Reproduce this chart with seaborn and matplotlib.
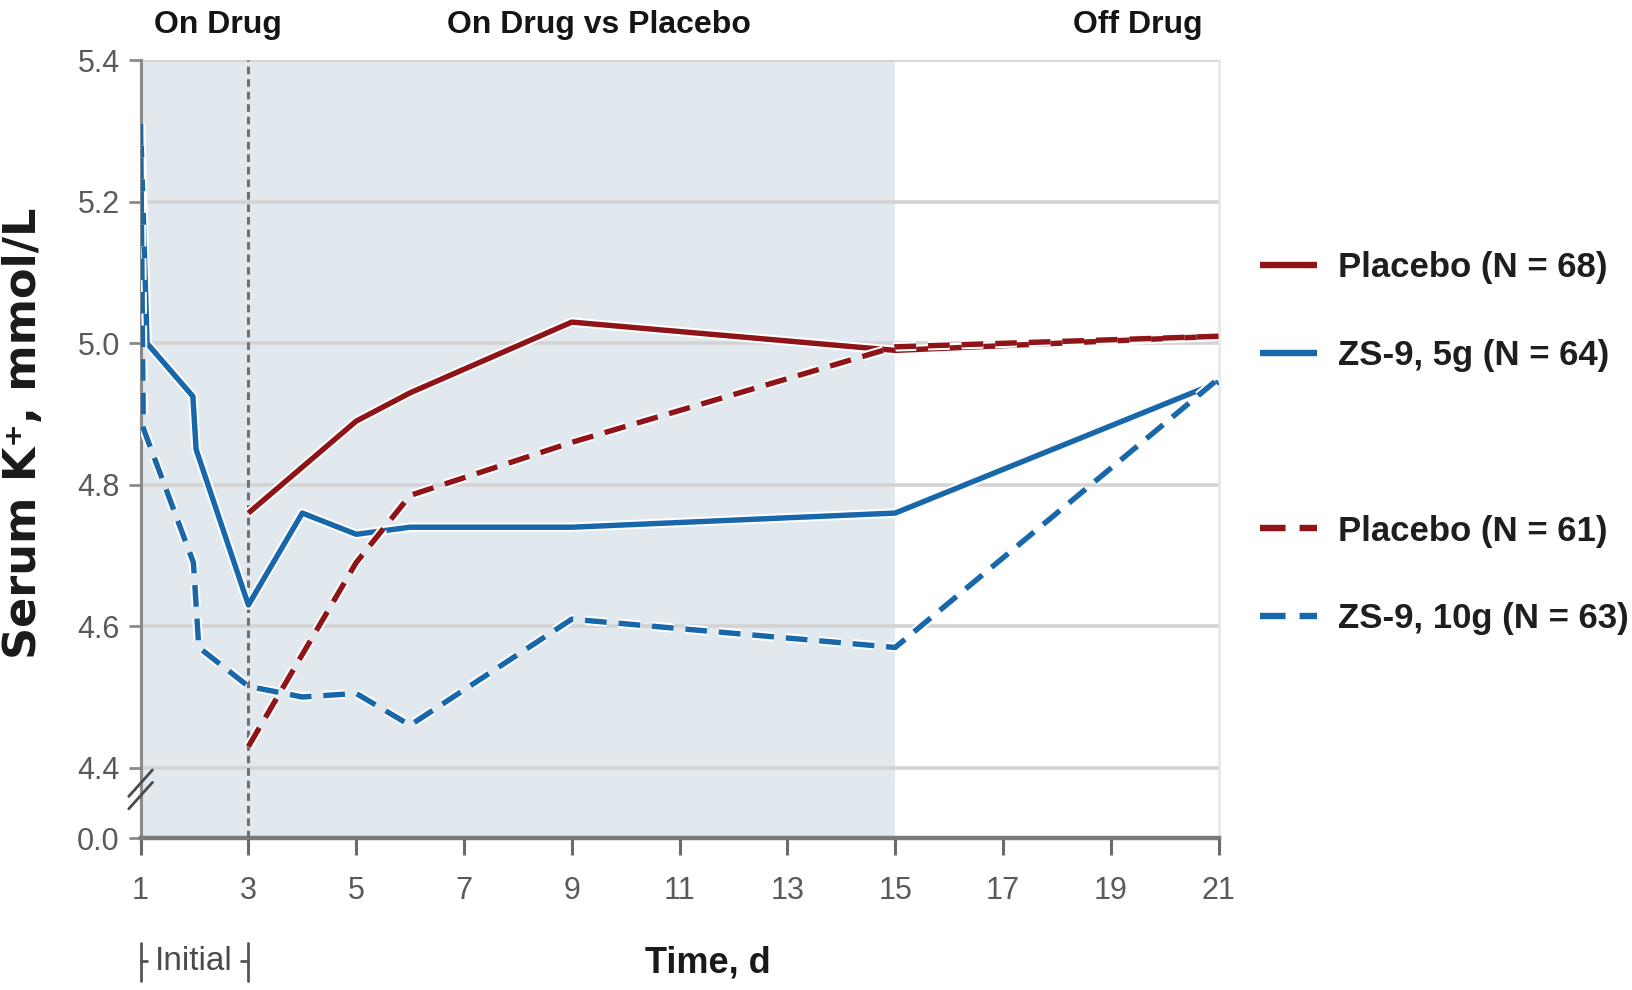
import matplotlib
matplotlib.use("Agg")
import matplotlib.pyplot as plt
import matplotlib.patheffects as pe
from matplotlib.lines import Line2D
import seaborn as sns
import pandas as pd

# ---------------- data ----------------
series_labels = ["Placebo (N = 68)", "ZS-9, 5g (N = 64)", "Placebo (N = 61)", "ZS-9, 10g (N = 63)"]

days_pbo68 = [3, 5, 6, 9, 15, 21]
k_pbo68 = [4.76, 4.89, 4.93, 5.03, 4.99, 5.01]

days_zs5 = [1.0, 1.12, 1.97, 2.03, 3, 4, 5, 6, 9, 15, 21]
k_zs5 = [5.31, 5.00, 4.925, 4.85, 4.63, 4.76, 4.73, 4.74, 4.74, 4.76, 4.945]

days_pbo61 = [3, 5, 6, 9, 15, 21]
k_pbo61 = [4.43, 4.69, 4.785, 4.86, 4.995, 5.01]

days_zs10 = [1.0, 1.05, 1.98, 2.08, 3, 4, 5, 6, 9, 15, 21]
k_zs10 = [5.31, 4.88, 4.69, 4.57, 4.515, 4.50, 4.505, 4.46, 4.61, 4.57, 4.95]

xtick_days = [1, 3, 5, 7, 9, 11, 13, 15, 17, 19, 21]
ytick_pos = [4.30, 4.4, 4.6, 4.8, 5.0, 5.2, 5.4]
ytick_labels = ["0.0", "4.4", "4.6", "4.8", "5.0", "5.2", "5.4"]

phase_labels = ["On Drug", "On Drug vs Placebo", "Off Drug"]
phase_centers = [2.43, 9.5, 19.5]

RED = "#8E1418"
BLUE = "#1767AA"

# ---------------- figure ----------------
sns.set_theme(style="white")
plt.rcParams["font.family"] = ["Liberation Sans", "DejaVu Sans"]

fig = plt.figure(figsize=(16.33, 9.9), dpi=100)
ax = fig.add_axes([0.0861, 0.1531, 0.6601, 0.7859])

ax.axvspan(1, 15, color="#E1E9EF", zorder=0, lw=0)

series = [
    (days_pbo68, k_pbo68, RED, None),
    (days_zs5, k_zs5, BLUE, None),
    (days_pbo61, k_pbo61, RED, (4, 2.2)),
    (days_zs10, k_zs10, BLUE, (4, 2.2)),
]
handles = []
for (d, k, c, dash), lab in zip(series, series_labels):
    df = pd.DataFrame({"day": d, "k": k})
    sns.lineplot(data=df, x="day", y="k", ax=ax, color=c, lw=3.9,
                 sort=False, estimator=None, label=lab, legend=False, zorder=4)
    ln = ax.lines[-1]
    if dash is not None:
        ln.set_dashes(dash)
    ln.set_path_effects([pe.Stroke(linewidth=6.8, foreground="white"), pe.Normal()])
    ln.set_solid_capstyle("butt")
    handles.append(ln)

ax.axvline(3, color="#707070", lw=2.2, ls=(0, (2.5, 1.6)), zorder=3)

ax.set_xlim(1, 21)
ax.set_ylim(4.30, 5.40)
ax.set_xticks(xtick_days)
ax.set_xticklabels([str(v) for v in xtick_days])
ax.set_yticks(ytick_pos)
ax.set_yticklabels(ytick_labels)

ax.set_axisbelow(True)
ax.grid(axis="y", color="#D3D3D3", lw=2.6)
ax.grid(axis="x", visible=False)

ax.spines["top"].set_visible(False)
ax.spines["right"].set_color("#E8E8E8")
ax.spines["right"].set_linewidth(2)
ax.spines["left"].set_color("#8A8A8A")
ax.spines["left"].set_linewidth(2.2)
ax.spines["bottom"].set_color("#7A7A7A")
ax.spines["bottom"].set_linewidth(3.2)

ax.tick_params(axis="y", which="major", left=True, length=9, width=2, color="#8A8A8A",
               labelsize=22, labelcolor="#5A5A5A", pad=6)
ax.tick_params(axis="x", which="major", bottom=True, length=12, width=2.2, color="#6A6A6A",
               labelsize=22, labelcolor="#5A5A5A", pad=15)

# axis labels
ax.set_xlabel("Time, d", fontsize=26, fontweight="bold", color="#1A1A1A")
ax.xaxis.label.set_va("center")
ax.xaxis.set_label_coords((11.53 - 1) / 20, -0.160)
ax.set_ylabel("Serum K\u207a, mmol/L", fontsize=32, fontweight="bold", color="#1A1A1A",
              family=["DejaVu Sans"])
ax.yaxis.label.set_va("center")
ax.yaxis.set_label_coords(-0.109, 0.521)

# phase labels above the plot
xt = ax.get_xaxis_transform()
for lab, cx in zip(phase_labels, phase_centers):
    ax.text(cx, 1.045, lab, transform=xt, ha="center", va="center", fontsize=23,
            fontweight="bold", color="#151515")

# "Initial" bracket under the axis
for xv in (1, 3):
    ax.plot([xv, xv], [-0.134, -0.183], transform=xt, clip_on=False, color="#555555", lw=2)
ax.plot([1, 1.12], [-0.158, -0.158], transform=xt, clip_on=False, color="#555555", lw=2)
ax.plot([2.86, 3], [-0.158, -0.158], transform=xt, clip_on=False, color="#555555", lw=2)
ax.text(1.99, -0.158, "Initial", transform=xt, ha="center", va="center", fontsize=24,
        color="#4A4A4A")

# axis break marks
for off in (0.0, 0.016):
    ax.plot([-0.011, 0.011], [0.038 + off, 0.072 + off], transform=ax.transAxes,
            clip_on=False, color="#4A4A4A", lw=2, zorder=6)

# legend
blank = Line2D([], [], color="none")
leg = ax.legend([handles[0], handles[1], blank, handles[2], handles[3]],
                [series_labels[0], series_labels[1], "", series_labels[2], series_labels[3]],
                loc="upper left", bbox_to_anchor=(1260 / 1633, 1 - 251 / 990),
                bbox_transform=fig.transFigure, frameon=False, borderpad=0, borderaxespad=0,
                handlelength=1.65, handletextpad=0.6, labelspacing=1.58,
                prop={"size": 25, "weight": "bold"})
for t in leg.get_texts():
    t.set_color("#1E1E1E")
for h in leg.legend_handles:
    h.set_linewidth(4.6)
    h.set_path_effects([])

fig.savefig("out.png", dpi=100, facecolor="white")
